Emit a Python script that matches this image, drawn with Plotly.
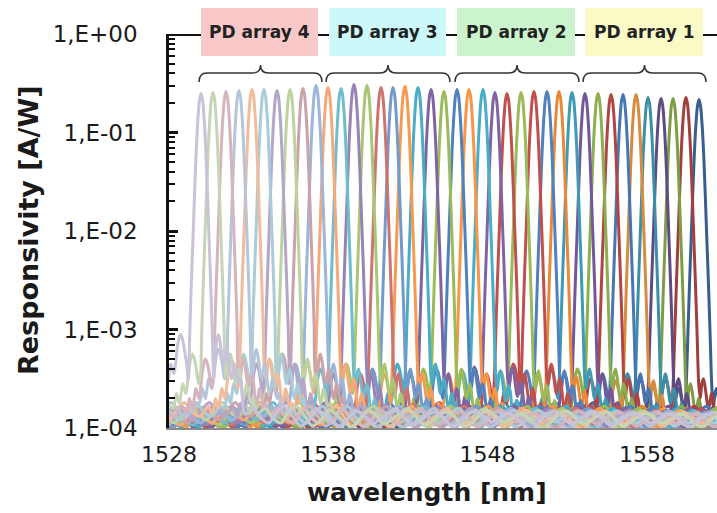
import numpy as np
import plotly.graph_objects as go

# ---------------- data ----------------
# channel centre wavelengths (nm), left to right (PD array 4 .. PD array 1)
CENTERS = [1530.01, 1530.76, 1531.58, 1532.39, 1533.21, 1533.96, 1534.78, 1535.60, 1536.41, 1537.23,
           1537.98, 1538.80, 1539.61, 1540.43, 1541.31, 1542.06, 1542.81, 1543.63, 1544.45, 1545.26,
           1546.08, 1546.83, 1547.71, 1548.46, 1549.22, 1550.10, 1550.91, 1551.73, 1552.48, 1553.30,
           1554.11, 1554.93, 1555.75, 1556.50, 1557.32, 1558.07, 1558.89, 1559.64, 1560.45, 1561.27]
# peak responsivity (A/W)
PEAKS = [0.249, 0.255, 0.261, 0.267, 0.274, 0.274, 0.267, 0.274, 0.280, 0.300,
         0.287, 0.280, 0.307, 0.300, 0.287, 0.287, 0.294, 0.287, 0.274, 0.261,
         0.274, 0.274, 0.274, 0.255, 0.249, 0.255, 0.261, 0.261, 0.261, 0.255,
         0.249, 0.249, 0.243, 0.243, 0.243, 0.227, 0.222, 0.222, 0.227, 0.216]
# side-lobe shoulder level (log10 A/W) of each channel
SHOULDER = [-3.05, -3.25, -3.30, -3.20, -3.30, -3.25, -3.35, -3.30, -3.25, -3.35,
            -3.35, -3.40, -3.45, -3.35, -3.45, -3.40, -3.45, -3.35, -3.45, -3.40,
            -3.40, -3.45, -3.42, -3.38, -3.45, -3.42, -3.35, -3.42, -3.48, -3.40,
            -3.45, -3.40, -3.50, -3.45, -3.52, -3.45, -3.50, -3.55, -3.50, -3.60]
COLORS = ["#C9C3D9", "#C5D5B5", "#D5B5BB", "#B5C5DA", "#F2BC9C", "#A9CBDA", "#B3A6C9", "#BDD29E", "#C9A2AA", "#9CB5DA",
          "#F5A97A", "#6FBCCF", "#9784B5", "#A9C672", "#CD7472", "#729ACA", "#F59A50", "#4BACC6", "#8064A2", "#9BBB59",
          "#4F81BD", "#F79646", "#4BACC6", "#8064A2", "#C0504D", "#9BBB59", "#C0504D", "#4F81BD", "#E8883A", "#3E9AB5",
          "#72589A", "#8DAE4F", "#B04644", "#4677B2", "#D88A3E", "#3D8FA6", "#5F4B82", "#7F9B45", "#A0403E", "#3A5F8E"]

# main lobe profile: offset (nm) and level relative to peak (decades)
LOBE_OFF = [-0.8, -0.7, -0.6, -0.5, -0.4, -0.3, -0.2, -0.1, 0.0, 0.1, 0.2, 0.3, 0.4, 0.5, 0.6, 0.7, 0.8]
LOBE_REL = [-2.9, -2.4, -1.9, -1.45, -1.0, -0.58, -0.27, -0.07, 0.0, -0.07, -0.27, -0.58, -1.0, -1.45, -1.9, -2.4, -2.9]
# near side lobes: |offset| (nm) and level relative to the shoulder (decades)
NEAR_OFF = [0.9, 1.0, 1.1, 1.2, 1.3, 1.4, 1.5, 1.6, 1.7, 1.8, 1.9, 2.0, 2.1, 2.2, 2.3, 2.4, 2.5]
NEAR_R = [-0.2, -0.05, 0.0, -0.08, -0.2, -0.3, -0.25, -0.15, -0.2, -0.35, -0.45, -0.4, -0.3, -0.35, -0.45, -0.5, -0.45]
NEAR_L = [-0.3, -0.2, -0.1, -0.03, 0.0, -0.05, -0.15, -0.3, -0.4, -0.35, -0.3, -0.4, -0.5, -0.45, -0.4, -0.5, -0.55]
# noise floor (log10 A/W) beyond the side lobes, every 0.5 nm from 2.75 nm outward
FLOOR_R = [-3.86, -3.80, -3.90, -3.95, -3.84, -3.78, -3.88, -3.98, -3.92, -3.82,
           -3.86, -3.94, -4.00, -3.90, -3.83, -3.87, -3.96, -3.91, -3.85, -3.80,
           -3.89, -3.97, -3.93, -3.86, -3.84, -3.90, -3.99, -3.95, -3.87, -3.82,
           -3.88, -3.94, -3.90, -3.85, -3.89, -3.97, -4.02, -3.93, -3.86, -3.83,
           -3.90, -3.96, -3.92, -3.87, -3.84, -3.91, -3.98, -3.94, -3.88, -3.85,
           -3.90, -3.95, -3.91, -3.86, -3.88, -3.96, -3.99, -3.92, -3.87, -3.84,
           -3.89, -3.94, -3.90, -3.86]
FLOOR_L = [-3.78, -3.88, -3.84, -3.74, -3.82, -3.92, -3.86, -3.79, -3.85, -3.95,
           -3.90, -3.81, -3.87, -3.97, -3.93, -3.84, -3.80, -3.89, -3.96, -3.88,
           -3.83, -3.91, -3.99, -3.92, -3.85, -3.82, -3.90, -3.97, -3.94, -3.86,
           -3.84, -3.92, -4.01, -3.95, -3.87, -3.83, -3.89, -3.96, -3.91, -3.85,
           -3.88, -3.95, -3.99, -3.92, -3.86, -3.90, -3.97, -3.93, -3.87, -3.85,
           -3.91, -3.98, -3.94, -3.88, -3.86, -3.92, -3.97, -3.91, -3.87, -3.90,
           -3.95, -3.92, -3.88, -3.90]

ARRAY_LABELS = ["PD array 4", "PD array 3", "PD array 2", "PD array 1"]
BOX_COLORS = ["#F9C8C8", "#CCF8FA", "#CCF4CC", "#FAFAC6"]
Y_TICKS = [1e-4, 1e-3, 1e-2, 1e-1, 1e0]
Y_TICKTEXT = ["1,E-04", "1,E-03", "1,E-02", "1,E-01", "1,E+00"]
X_TICKS = [1528, 1538, 1548, 1558]
X_RANGE = [1528, 1562.4]

# ---------------- build figure ----------------
floor_off = 2.75 + 0.5 * np.arange(len(FLOOR_R))
near = np.array(NEAR_OFF)

fig = go.Figure()
for k in reversed(range(len(CENTERS))):
    c, p, sh = CENTERS[k], PEAKS[k], SHOULDER[k]
    offs = np.concatenate([-floor_off[::-1], -near[::-1], LOBE_OFF, near, floor_off])
    lv = np.concatenate([np.array(FLOOR_L)[::-1], sh + np.array(NEAR_L)[::-1],
                         np.log10(p) + np.array(LOBE_REL), sh + np.array(NEAR_R), np.array(FLOOR_R)])
    x = c + offs
    m = (x > X_RANGE[0] - 1) & (x < X_RANGE[1] + 1)
    fig.add_trace(go.Scatter(x=x[m], y=10 ** lv[m], mode="lines",
                             line=dict(color=COLORS[k], width=3, shape="spline", smoothing=0.8),
                             showlegend=False, hoverinfo="skip"))

# pixel helpers for decorations (plot area 169..717 x 34..428)
def px2x(px):
    return X_RANGE[0] + (px - 169) * (X_RANGE[1] - X_RANGE[0]) / 548.0

def py2p(py):
    return (428 - py) / 394.0

shapes = []
# top reference line at 1E+00
shapes.append(dict(type="line", xref="paper", yref="paper", x0=0, x1=1, y0=py2p(35), y1=py2p(35),
                   line=dict(color="#111111", width=2), layer="above"))
box_px = [(201, 318), (329, 446), (457, 575), (585, 703)]
annotations = []
for (a, b), lab, col in zip(box_px, ARRAY_LABELS, BOX_COLORS):
    shapes.append(dict(type="rect", xref="x", yref="paper", x0=px2x(a), x1=px2x(b),
                       y0=py2p(56), y1=py2p(8), fillcolor=col, line=dict(width=0), layer="above"))
    annotations.append(dict(x=px2x((a + b) / 2), y=py2p(32), xref="x", yref="paper", text="<b>" + lab + "</b>",
                            showarrow=False, font=dict(family="DejaVu Sans", size=17, color="#222222"),
                            xanchor="center", yanchor="middle"))
brace_px = [(199, 322), (326, 450), (455, 579), (583, 706)]
for a, b in brace_px:
    mid = (a + b) / 2
    r = 8
    yt, yl, ye = py2p(65), py2p(73), py2p(82)
    path = (f"M {px2x(a)},{ye} Q {px2x(a)},{yl} {px2x(a + r)},{yl} L {px2x(mid - r)},{yl} "
            f"Q {px2x(mid)},{yl} {px2x(mid)},{yt} Q {px2x(mid)},{yl} {px2x(mid + r)},{yl} "
            f"L {px2x(b - r)},{yl} Q {px2x(b)},{yl} {px2x(b)},{ye}")
    shapes.append(dict(type="path", xref="x", yref="paper", path=path,
                       line=dict(color="#333333", width=1.5), layer="above"))

annotations.append(dict(x=px2x(427), y=py2p(492), xref="x", yref="paper", text="<b>wavelength [nm]</b>",
                        showarrow=False, font=dict(family="DejaVu Sans", size=25, color="#1a1a1a"),
                        xanchor="center", yanchor="middle"))
annotations.append(dict(x=(28 - 169) / 548.0, y=py2p(230), xref="paper", yref="paper",
                        text="<b>Responsivity [A/W]</b>", textangle=-90,
                        showarrow=False, font=dict(family="DejaVu Sans", size=27, color="#1a1a1a"),
                        xanchor="center", yanchor="middle"))

fig.update_layout(
    width=717, height=513,
    margin=dict(l=169, r=0, t=34, b=85),
    paper_bgcolor="white", plot_bgcolor="white",
    shapes=shapes, annotations=annotations,
    xaxis=dict(range=X_RANGE, tickvals=X_TICKS, ticks="", showgrid=False, zeroline=False,
               showline=True, linecolor="#8a8a8a", linewidth=2,
               tickfont=dict(family="DejaVu Sans", size=22, color="#1a1a1a"), ticklabelstandoff=6),
    yaxis=dict(type="log", range=[-4, 0], tickmode="array", tickvals=Y_TICKS, ticktext=Y_TICKTEXT,
               ticks="inside", ticklen=9, tickwidth=2.5, tickcolor="#111111",
               minor=dict(tickmode="linear", dtick="D1", ticks="inside", ticklen=6, tickwidth=1.5,
                          tickcolor="#111111", showgrid=False),
               showgrid=False, zeroline=False, showline=True, linecolor="#111111", linewidth=2.5,
               tickfont=dict(family="DejaVu Sans", size=23, color="#1a1a1a"), ticklabelstandoff=24),
)
fig.write_html("out.html")
